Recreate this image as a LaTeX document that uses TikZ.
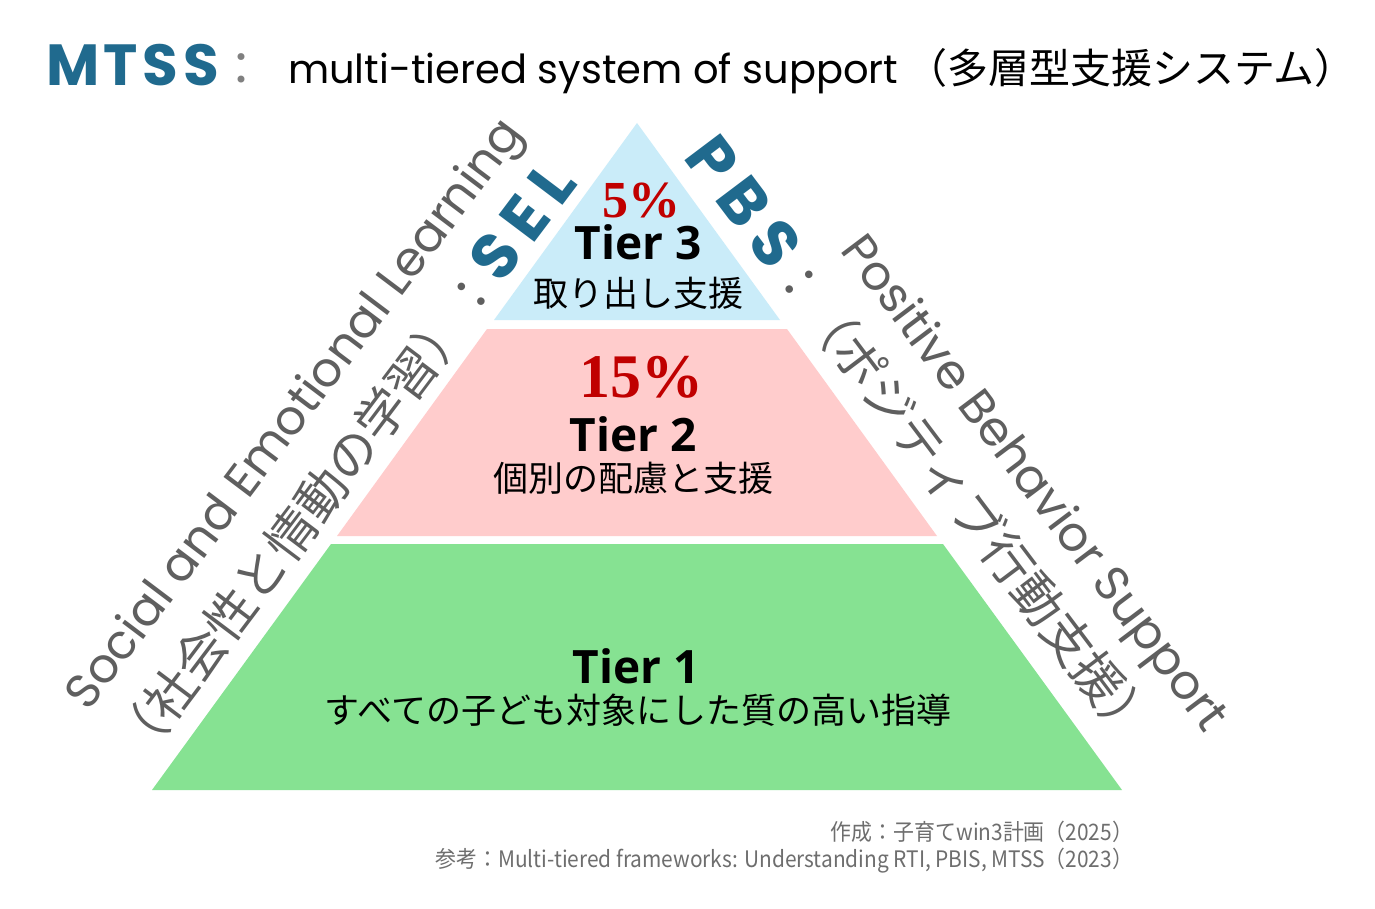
\documentclass[tikz,border=0pt]{standalone}
\usepackage{fontspec}
\setmainfont{Noto Sans CJK JP}
\newfontfamily\jpfont{Noto Sans CJK JP}
\newfontfamily\geofont{Poppins}
\newfontfamily\tierfont{Open Sans}
\newfontfamily\pctfont{Liberation Serif}
\newfontfamily\notefont[FakeStretch=0.92]{Noto Sans CJK JP}
\usetikzlibrary{positioning,calc}

\definecolor{tierthree}{RGB}{202,236,249}
\definecolor{tiertwo}{RGB}{255,204,204}
\definecolor{tierone}{RGB}{134,226,146}
\definecolor{acroblue}{RGB}{32,106,142}
\definecolor{sidegray}{RGB}{95,95,95}
\definecolor{pctred}{RGB}{192,0,0}
\definecolor{notegray}{RGB}{110,110,110}

\newcommand{\fs}[1]{\fontsize{#1}{#1}\selectfont}

\tikzset{
	every node/.style={inner sep=0pt, outer sep=0pt},
	pctlabel/.style={font=\pctfont\bfseries\fs{52}, text=pctred, anchor=base},
	tierlabel/.style={font=\tierfont\bfseries\fs{46}, anchor=base},
	tierdesc/.style={font=\jpfont\fs{35}},
	sidelatin/.style={font=\geofont\fs{48}, text=sidegray},
	sidejp/.style={font=\jpfont\fs{50}, text=sidegray},
	acronym/.style={font=\geofont\bfseries\fs{64}\addfontfeature{LetterSpace=18}, text=acroblue},
	credit/.style={font=\notefont\fs{22.7}, text=notegray, anchor=base east},
}

\begin{document}
\begin{tikzpicture}[x=1pt,y=-1pt]

	\fill[white] (0,0) rectangle (1375,909);
	\useasboundingbox (0,0) rectangle (1375,909);

	% title line
	\node[anchor=base west, font=\geofont\bfseries\fs{58}\addfontfeature{LetterSpace=8}, text=acroblue] (mtss) at (46,86) {MTSS};
	\node[anchor=base west, font=\jpfont\fs{46}, text=gray] (mtsscolon) at (218,86) {：};
	\node[anchor=base west, font=\geofont\fs{40}] (mtssen) at (288,84) {multi-tiered system of support};
	\node[anchor=base west, font=\jpfont\fs{41}] (mtssjp) at (906,84) {（多層型支援システム）};

	% the three tiers
	\fill[tierthree] (637,123) -- (780,320) -- (494,320) -- cycle;
	\fill[tiertwo] (487,329) -- (787,329) -- (937,536) -- (337,536) -- cycle;
	\fill[tierone] (331,544) -- (943,544) -- (1122,790) -- (152,790) -- cycle;

	\node[pctlabel] (pctthree) at (641,218) {5\%};
	\node[tierlabel] (tierthreename) at (638,259) {Tier 3};
	\node[tierdesc] (tierthreedesc) at (638,293) {取り出し支援};

	\node[pctlabel, font=\pctfont\bfseries\fs{62}] (pcttwo) at (641,397) {15\%};
	\node[tierlabel] (tiertwoname) at (633,451) {Tier 2};
	\node[tierdesc] (tiertwodesc) at (633,478) {個別の配慮と支援};

	\node[tierlabel] (tieronename) at (636,683) {Tier 1};
	\node[tierdesc] (tieronedesc) at (638,710) {すべての子ども対象にした質の高い指導};

	% left side: SEL
	\node[sidelatin, rotate=53] (selen) at (297,416) {Social and Emotional Learning};
	\node[sidejp, rotate=53] (seljp) at (306,514) {（社会性と情動の学習）：};
	\node[acronym, rotate=53, anchor=base west] (sel) at (seljp.base east) {SEL};

	% right side: PBS
	\node[sidelatin, rotate=-53] (pbsen) at (1032,485) {Positive Behavior Support};
	\node[sidejp, rotate=-53] (pbsjp) at (964,500) {：（ポジティブ行動支援）};
	\node[acronym, rotate=-53, anchor=base east] (pbs) at (pbsjp.base west) {PBS};

	% sources
	\node[credit] (made) at (1133,840) {作成：子育てwin3計画（2025）};
	\node[credit] (ref) at (1133,867) {参考：Multi-tiered frameworks: Understanding RTI, PBIS, MTSS（2023）};

\end{tikzpicture}
\end{document}
